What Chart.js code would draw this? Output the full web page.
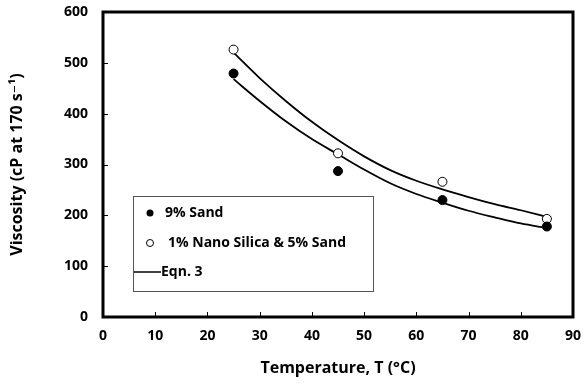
<!DOCTYPE html>
<html>
<head>
<meta charset="utf-8">
<script src="https://cdn.jsdelivr.net/npm/chart.js@4.4.0/dist/chart.umd.min.js"></script>
<style>
  html, body { margin: 0; padding: 0; background: #fff; }
  #wrap { width: 584px; height: 385px; }
</style>
</head>
<body>
<div id="wrap"><canvas id="chart"></canvas></div>
<script>
// measured points
const temps = [25, 45, 65, 85];
const sand9 = [479, 287, 230, 178];
const nanoSilica = [526, 322, 266, 193];

// Eqn. 3 curves
const curveT = [25, 30, 35, 40, 45, 50, 55, 60, 65, 70, 75, 80, 85];
const curveNano = [520, 470, 425, 384, 348, 316, 289, 268, 251, 236, 222, 210, 197];
const curveSand = [468, 425, 385, 350, 320, 290, 263, 242, 225, 209, 196, 184, 175];

const xTicks = [0, 10, 20, 30, 40, 50, 60, 70, 80, 90];
const yTicks = [0, 100, 200, 300, 400, 500, 600];

const toXY = (xs, ys) => xs.map((x, i) => ({ x: x, y: ys[i] }));

const FONT = "'Open Sans', 'DejaVu Sans', sans-serif";

// plot box + inward tick marks + legend box
const decor = {
    id: "decor",
    afterDraw(chart) {
        const ctx = chart.ctx;
        const a = chart.chartArea;
        const xs = chart.scales.x;
        const ys = chart.scales.y;
        ctx.save();
        ctx.strokeStyle = "#000";
        ctx.lineWidth = 1;
        ctx.beginPath();
        xTicks.forEach((v) => {
            const px = Math.round(xs.getPixelForValue(v)) + 0.5;
            ctx.moveTo(px, a.bottom);
            ctx.lineTo(px, a.bottom - 5);
        });
        yTicks.forEach((v) => {
            const py = Math.round(ys.getPixelForValue(v)) + 0.5;
            ctx.moveTo(a.left, py);
            ctx.lineTo(a.left + 5, py);
        });
        ctx.stroke();
        ctx.lineWidth = 3;
        ctx.strokeRect(a.left, a.top, a.right - a.left, a.bottom - a.top);

        // legend
        const lx = 133, ly = 196, lw = 240, lh = 95;
        ctx.fillStyle = "#fff";
        ctx.fillRect(lx, ly, lw, lh);
        ctx.lineWidth = 1;
        ctx.strokeStyle = "#555";
        ctx.strokeRect(lx + 0.5, ly + 0.5, lw, lh);
        ctx.font = "bold 14px " + FONT;
        ctx.fillStyle = "#000";
        ctx.textBaseline = "middle";
        ctx.beginPath();
        ctx.arc(150, 213, 3.5, 0, Math.PI * 2);
        ctx.fill();
        ctx.fillText("9% Sand", 165, 213);
        ctx.beginPath();
        ctx.arc(150, 243, 3.5, 0, Math.PI * 2);
        ctx.strokeStyle = "#000";
        ctx.stroke();
        ctx.fillText("1% Nano Silica & 5% Sand", 168, 243);
        ctx.lineWidth = 1.5;
        ctx.beginPath();
        ctx.moveTo(134, 272);
        ctx.lineTo(161, 272);
        ctx.stroke();
        ctx.fillText("Eqn. 3", 161, 272);
        ctx.restore();
    },
};

new Chart(document.getElementById("chart"), {
    type: "scatter",
    data: {
        datasets: [
            {
                label: "9% Sand",
                data: toXY(temps, sand9),
                pointRadius: 4.5,
                pointBackgroundColor: "#000",
                pointBorderColor: "#000",
                pointBorderWidth: 1,
            },
            {
                label: "1% Nano Silica & 5% Sand",
                data: toXY(temps, nanoSilica),
                pointRadius: 4.5,
                pointBackgroundColor: "#fff",
                pointBorderColor: "#000",
                pointBorderWidth: 1,
            },
            {
                label: "Eqn. 3",
                data: toXY(curveT, curveNano),
                showLine: true,
                borderColor: "#000",
                borderWidth: 1.8,
                pointRadius: 0,
                cubicInterpolationMode: "monotone",
            },
            {
                label: "Eqn. 3 (sand)",
                data: toXY(curveT, curveSand),
                showLine: true,
                borderColor: "#000",
                borderWidth: 1.8,
                pointRadius: 0,
                cubicInterpolationMode: "monotone",
            },
        ],
    },
    options: {
        responsive: true,
        maintainAspectRatio: false,
        animation: false,
        layout: { padding: { top: 12, right: 11, left: 0, bottom: 0 } },
        plugins: {
            legend: { display: false },
            tooltip: { enabled: false },
        },
        scales: {
            x: {
                type: "linear",
                min: 0,
                max: 90,
                afterFit: (s) => { s.height = 68; s.paddingRight = 0; s.paddingLeft = 0; },
                afterBuildTicks: (s) => { s.ticks = xTicks.map((v) => ({ value: v })); },
                grid: { display: false, drawTicks: false },
                border: { display: false },
                ticks: {
                    padding: 11,
                    color: "#000",
                    font: { family: FONT, size: 14, weight: "bold" },
                },
                title: {
                    display: true,
                    text: "Temperature, T (°C)",
                    color: "#000",
                    font: { family: FONT, size: 16, weight: "bold" },
                    padding: { top: 4, bottom: 7 },
                },
            },
            y: {
                min: 0,
                max: 600,
                afterFit: (s) => { s.width = 103; s.paddingTop = 0; s.paddingBottom = 0; },
                afterBuildTicks: (s) => { s.ticks = yTicks.map((v) => ({ value: v })); },
                grid: { display: false, drawTicks: false },
                border: { display: false },
                ticks: {
                    padding: 15,
                    color: "#000",
                    font: { family: FONT, size: 14, weight: "bold" },
                },
                title: {
                    display: true,
                    text: "Viscosity (cP at 170 s⁻¹)",
                    color: "#000",
                    font: { family: FONT, size: 16, weight: "bold" },
                    padding: { top: 8, bottom: 4 },
                },
            },
        },
    },
    plugins: [decor],
});
</script>
</body>
</html>
